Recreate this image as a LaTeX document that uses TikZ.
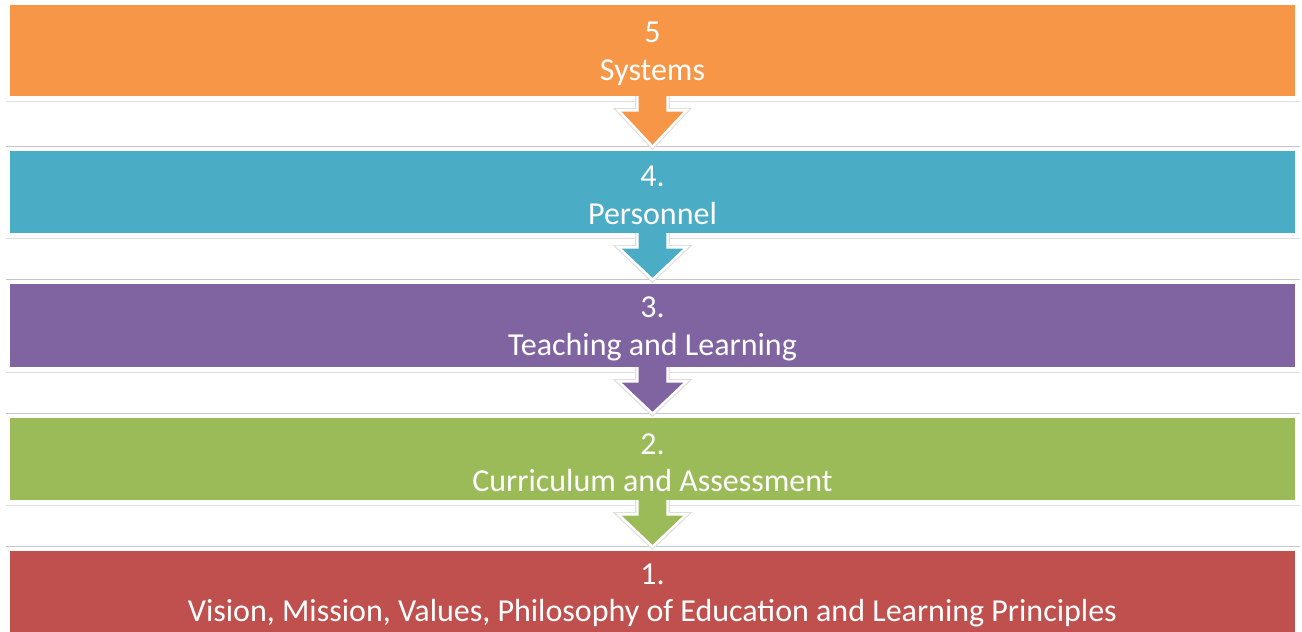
\documentclass[tikz,border=0pt]{standalone}
\usepackage{fontspec}
\setmainfont{Carlito}
\usetikzlibrary{calc}

\definecolor{systemsorange}{HTML}{F79646}
\definecolor{personnelblue}{HTML}{4BACC6}
\definecolor{teachingpurple}{HTML}{8064A2}
\definecolor{curriculumgreen}{HTML}{9BBB59}
\definecolor{visionred}{HTML}{C0504D}

\pgfdeclarelayer{back}
\pgfsetlayers{back,main}

\tikzset{
  level/.style={rectangle, fill=#1, minimum width=642.5pt, minimum height=41pt,
    inner sep=0pt},
  leveltext/.style={text=white, align=center, inner sep=0pt, yshift=-1.75pt,
    font=\fontsize{16}{18.75}\selectfont},
  gapline/.style={draw=gray!25, line width=0.6pt},
  downarrow/.style={fill=#1, draw=white, line width=1.2pt,
    preaction={draw=gray!25, line width=2.4pt}}
}

% white band between two levels, with the arrow from the upper one
\newcommand{\leveldown}[3]{%
  \begin{pgfonlayer}{back}
  \draw[gapline] ($(#1.south west)+(-4,5)$) -- ($(#1.south east)+(5,5)$);
  \draw[gapline, draw=gray!45] ($(#2.north west)+(-4,-4)$) -- ($(#2.north east)+(5,-4)$);
  \draw[downarrow=#3] ($(#1.south)+(-15,-3)$) -- ($(#1.south)+(-15,14)$)
    -- ($(#1.south)+(-34,14)$) -- ($(#2.north)+(0,-4)$)
    -- ($(#1.south)+(34,14)$) -- ($(#1.south)+(15,14)$)
    -- ($(#1.south)+(15,-3)$) -- cycle;
  \end{pgfonlayer}
}

\begin{document}
\begin{tikzpicture}[x=0.5pt, y=-0.5pt]
  \useasboundingbox (0,0) rectangle (1302,632);

  \node[level=systemsorange, minimum height=45.5pt,
    label={[leveltext]center:{5\\Systems}}] (systems) at (652.5,50.5) {};
  \node[level=personnelblue,
    label={[leveltext]center:{4.\\Personnel}}] (personnel) at (652.5,192) {};
  \node[level=teachingpurple, minimum height=41.5pt,
    label={[leveltext]center:{3.\\Teaching and Learning}}] (teaching) at (652.5,325.5) {};
  \node[level=curriculumgreen,
    label={[leveltext]center:{2.\\Curriculum and Assessment}}] (curriculum) at (652.5,459) {};
  \node[level=visionred,
    label={[leveltext]center:{1.\\Vision, Mission, Values, Philosophy of Education and Learning Principles}}] (vision) at (652.5,592) {};

  \leveldown{systems}{personnel}{systemsorange}
  \leveldown{personnel}{teaching}{personnelblue}
  \leveldown{teaching}{curriculum}{teachingpurple}
  \leveldown{curriculum}{vision}{curriculumgreen}
\end{tikzpicture}
\end{document}
